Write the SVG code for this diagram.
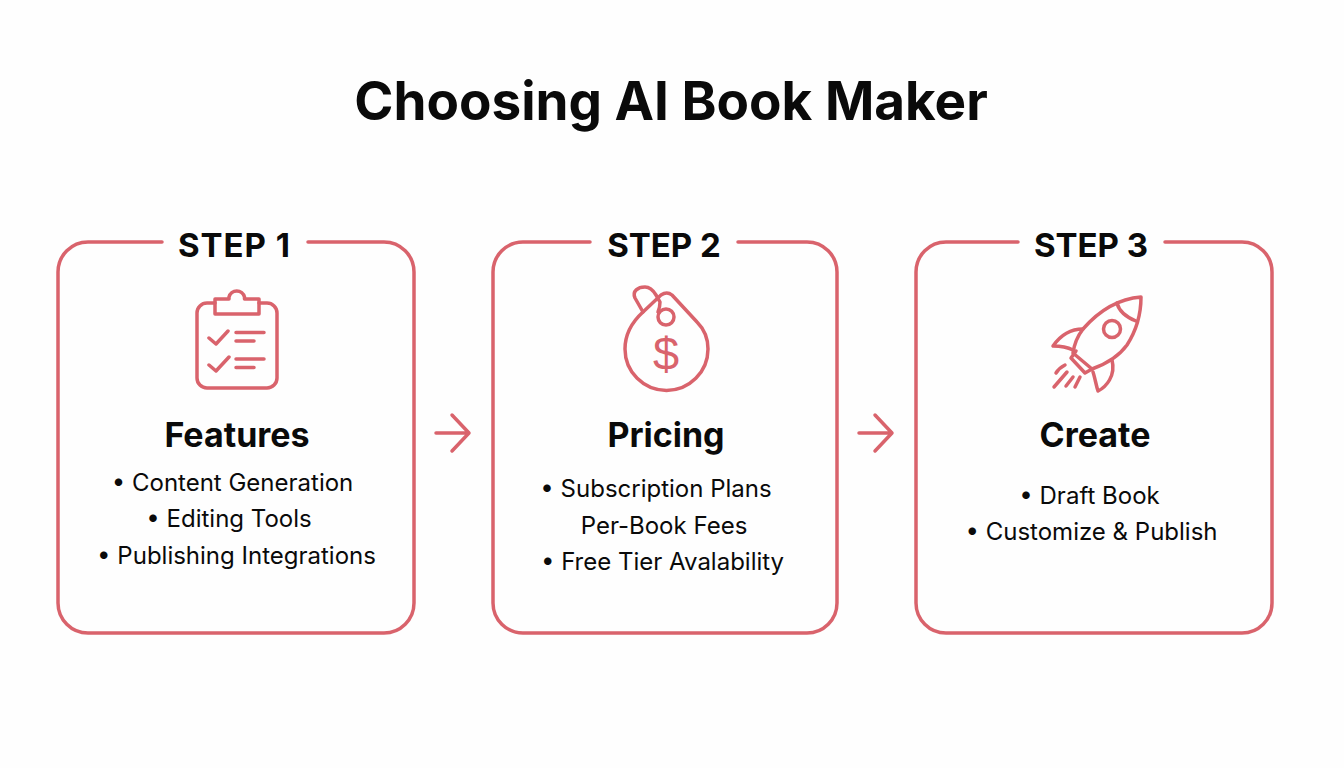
<svg xmlns="http://www.w3.org/2000/svg" width="1344" height="768" viewBox="0 0 1344 768">
<style>
text{font-family:Inter,"Liberation Sans",Arial,sans-serif;fill:#0a0a0a;text-anchor:middle}
.title{font-size:53px;font-weight:700}
.step{font-size:33px;font-weight:700}
.head{font-size:34px;font-weight:700}
.item{font-size:24px}
.dollar{font-family:"Liberation Sans",sans-serif;font-size:47px;fill:#d9636c}
.box{fill:none;stroke:#d9636c;stroke-width:3.500;stroke-linecap:round;stroke-linejoin:round}
.ic{fill:none;stroke:#d9636c;stroke-width:3.500;stroke-linecap:round;stroke-linejoin:round}
</style>
<rect width="1344" height="768" fill="#fefefe"/>
<text class="title" x="671" y="120">Choosing AI Book Maker</text>
<g id="step1">
<path class="box" d="M162 242H88a30 30 0 0 0-30 30V603a30 30 0 0 0 30 30H384a30 30 0 0 0 30-30V272a30 30 0 0 0-30-30H308"/>
<text class="step" x="234.500" y="257" letter-spacing="1">STEP 1</text>
<g class="ic">
<path d="M215 303H207a10 10 0 0 0-10 10V378a10 10 0 0 0 10 10H267a10 10 0 0 0 10-10V313a10 10 0 0 0-10-10H259"/>
<path d="M215 314V299H229V297a8 8 0 0 1 15.500 0V299H259V314Z"/>
<path d="M209 338L216 344L228 331M236 332.500H264M236 341H254M209 365L216 371L229 357M236 359H264M236 367.500H254"/>
</g>
<text class="head" x="237" y="447">Features</text>
<text class="item" x="232.500" y="491">• Content Generation</text>
<text class="item" x="229" y="527">• Editing Tools</text>
<text class="item" x="236.500" y="564">• Publishing Integrations</text>
</g>
<g id="step2">
<path class="box" d="M590 242H523a30 30 0 0 0-30 30V603a30 30 0 0 0 30 30H807a30 30 0 0 0 30-30V272a30 30 0 0 0-30-30H738"/>
<text class="step" x="664" y="257">STEP 2</text>
<g class="ic">
<path d="M643 312L661 295Q667 291 672 295L697 322C704 329 708 338 708 349A41.500 41.500 0 0 1 625 349C625 335 632 322 643 312Z"/>
<path d="M643 312L635 298C632 291 638 287 645 287C650 287 653 290 656 295L660 302Q660 307 658 312"/>
<circle cx="666" cy="317" r="8"/>
</g>
<text class="dollar" x="666" y="370">$</text>
<text class="head" x="666" y="447">Pricing</text>
<text class="item" x="656" y="497">• Subscription Plans</text>
<text class="item" x="664" y="534">Per-Book Fees</text>
<text class="item" x="662.500" y="570">• Free Tier Avalability</text>
</g>
<g id="step3">
<path class="box" d="M1018 242H946a30 30 0 0 0-30 30V603a30 30 0 0 0 30 30H1242a30 30 0 0 0 30-30V272a30 30 0 0 0-30-30H1165"/>
<text class="step" x="1091" y="257">STEP 3</text>
<g class="ic">
<path d="M1141 297C1116 299 1097 313 1083 329C1076 338 1074 346 1073 353L1092 369C1106 364 1119 356 1127 345C1136 331 1141 316 1141 297Z"/>
<path d="M1117 303C1119 311 1126 317 1136 321"/>
<circle cx="1112" cy="329" r="8.500"/>
<path d="M1083 329C1069 329 1060 336 1053 346C1060 346 1067 347 1073 350"/>
<path d="M1093 372C1095 378 1096 385 1098 391C1106 387 1116 376 1112 360"/>
<path d="M1076 351L1071 358L1085 373L1092 369"/>
<path d="M1065 365Q1059 368 1056 373M1067 372L1054 387M1073 377L1066 386M1080 377L1075 387"/>
</g>
<text class="head" x="1095" y="447">Create</text>
<text class="item" x="1089.500" y="504">• Draft Book</text>
<text class="item" x="1091.500" y="540">• Customize &amp; Publish</text>
</g>
<g id="connectors">
<path class="ic" d="M436 433H468M452 415L469 433L452 451"/>
<path class="ic" d="M859 433H891M875 415L892 433L875 451"/>
</g>
</svg>
